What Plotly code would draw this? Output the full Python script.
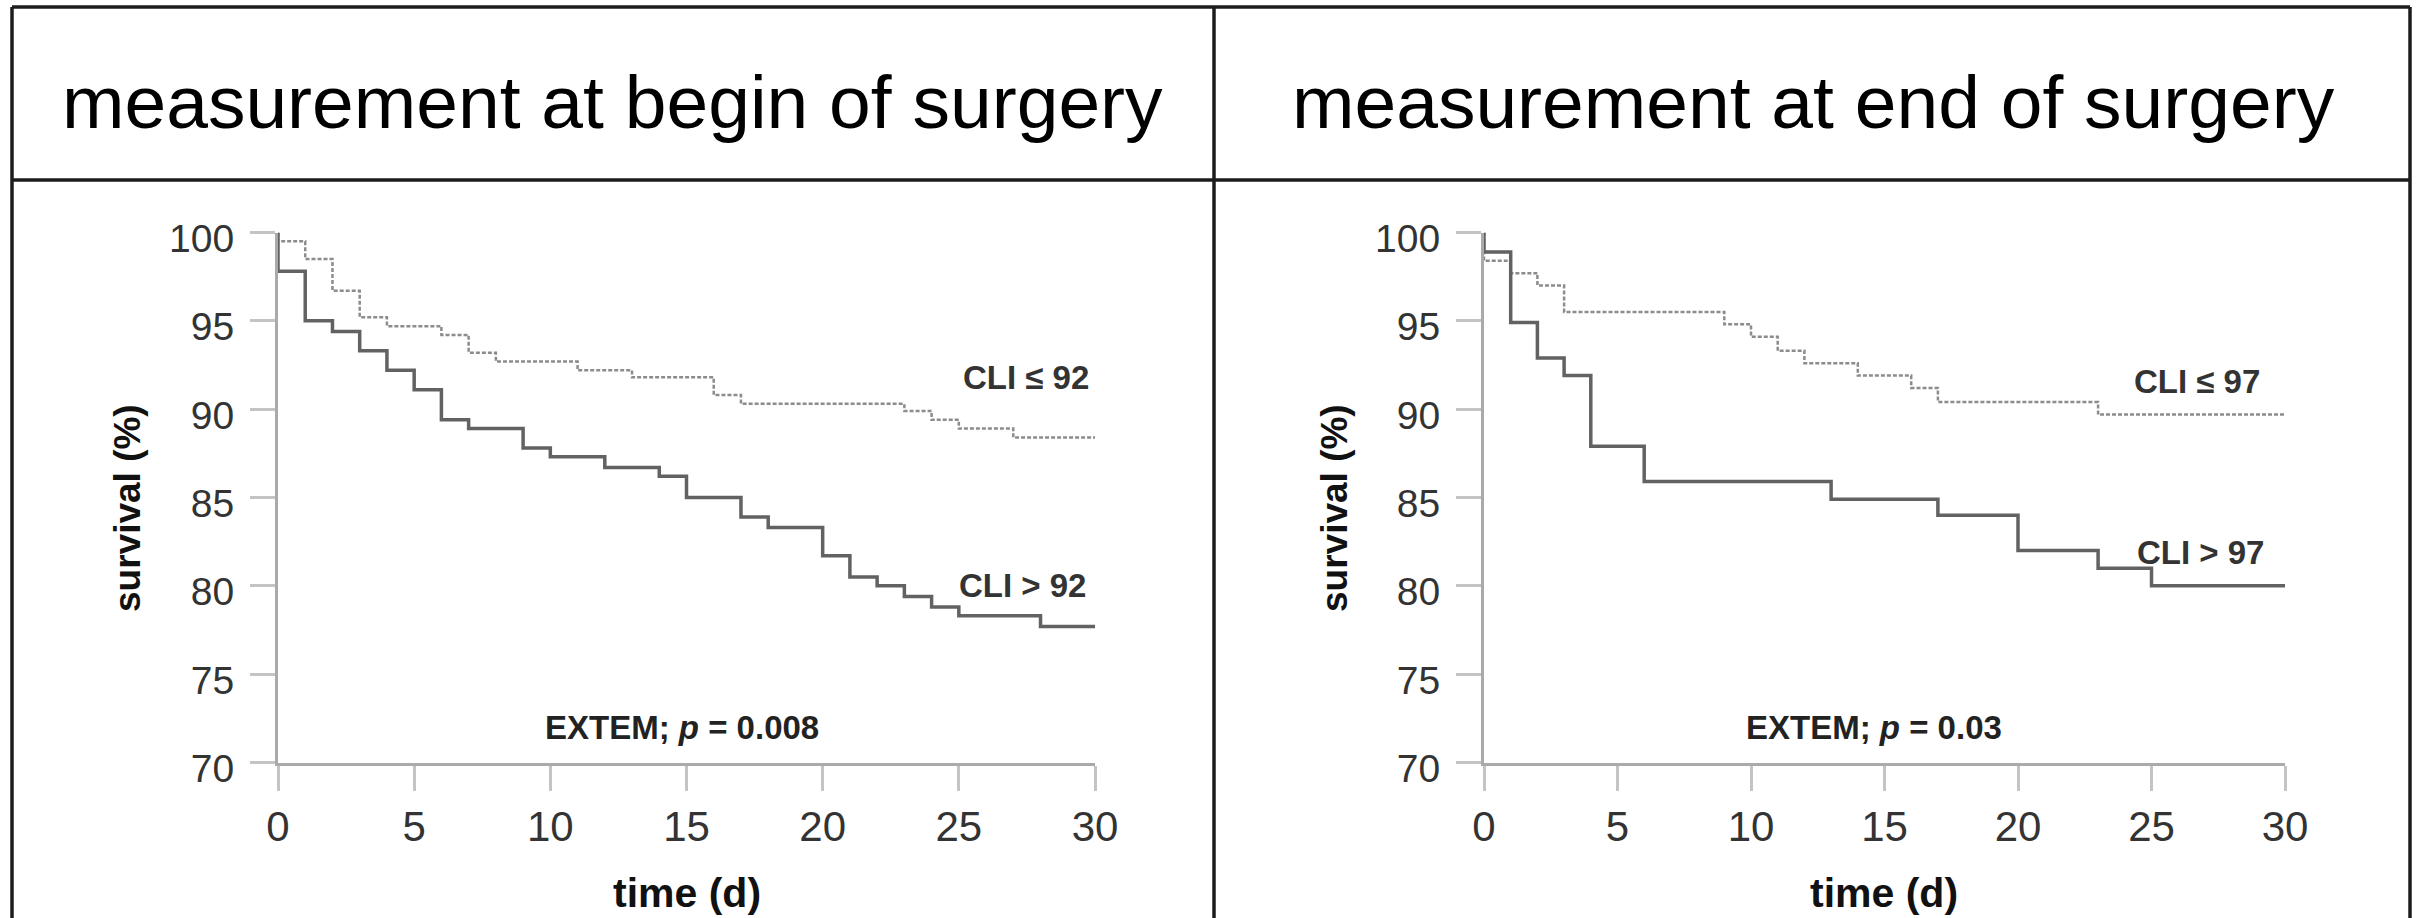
import plotly.graph_objects as go

W, H = 2422, 918

# ---------------- data ----------------
# Left panel: measurement at begin of surgery
left_hi_t = [0, 0, 1, 2, 3, 4, 5, 6, 7, 9, 10, 12, 14, 15, 17, 18, 20, 21, 22, 23, 24, 25, 28, 30]
left_hi_v = [100, 97.8, 95.0, 94.4, 93.3, 92.2, 91.1, 89.4, 88.9, 87.8, 87.3, 86.7, 86.2, 85.0,
             83.9, 83.3, 81.7, 80.5, 80.0, 79.4, 78.8, 78.3, 77.7, 77.7]
left_lo_t = [0, 0, 1, 2, 3, 4, 6, 7, 8, 11, 13, 16, 17, 23, 24, 25, 27, 30]
left_lo_v = [100, 99.5, 98.5, 96.7, 95.2, 94.7, 94.2, 93.2, 92.7, 92.2, 91.8, 90.8, 90.3,
             89.9, 89.4, 88.9, 88.4, 88.4]

# Right panel: measurement at end of surgery
right_hi_t = [0, 0, 1, 2, 3, 4, 6, 13, 17, 20, 23, 25, 30]
right_hi_v = [100, 98.9, 94.9, 92.9, 91.9, 87.9, 85.9, 84.9, 84.0, 82.0, 81.0, 80.0, 80.0]
right_lo_t = [0, 0, 1, 2, 3, 9, 10, 11, 12, 14, 16, 17, 23, 30]
right_lo_v = [100, 98.4, 97.7, 97.0, 95.5, 94.8, 94.1, 93.3, 92.6, 91.9, 91.2, 90.4, 89.7, 89.7]

panel_titles = ["measurement at begin of surgery", "measurement at end of surgery"]
label_lo = ["CLI ≤ 92", "CLI ≤ 97"]
label_hi = ["CLI > 92", "CLI > 97"]
pvals = ["0.008", "0.03"]
x_ticks = [0, 5, 10, 15, 20, 25, 30]
y_ticks = [70, 75, 80, 85, 90, 95, 100]

# ---------------- layout helpers ----------------
def px(x):
    return x / W

def py(y):
    return 1 - y / H

fig = go.Figure()

solid_col = "#626262"
dot_col = "#8c8c8c"
FONT = "Liberation Sans, Arial, sans-serif"

panels = [
    dict(xa="x", ya="y", hi=(left_hi_t, left_hi_v), lo=(left_lo_t, left_lo_v),
         lab_lo=(27.45, 91.8), lab_hi=(27.35, 80.0), ext=14.85,
         ytitle_x=127, xtitle_x=687, title_x=612),
    dict(xa="x2", ya="y2", hi=(right_hi_t, right_hi_v), lo=(right_lo_t, right_lo_v),
         lab_lo=(26.7, 91.55), lab_hi=(26.85, 81.9), ext=14.6,
         ytitle_x=1334, xtitle_x=1884, title_x=1813),
]

def ann(**kw):
    kw.setdefault("showarrow", False)
    kw.setdefault("xanchor", "center")
    kw.setdefault("yanchor", "middle")
    fig.add_annotation(**kw)

for i, p in enumerate(panels):
    fig.add_trace(go.Scatter(x=p["lo"][0], y=p["lo"][1], mode="lines", line_shape="hv",
                             line=dict(color=dot_col, width=2.5, dash="4px,2px"),
                             xaxis=p["xa"], yaxis=p["ya"], showlegend=False, hoverinfo="skip"))
    fig.add_trace(go.Scatter(x=p["hi"][0], y=p["hi"][1], mode="lines", line_shape="hv",
                             line=dict(color=solid_col, width=3.5),
                             xaxis=p["xa"], yaxis=p["ya"], showlegend=False, hoverinfo="skip"))
    # curve labels
    ann(x=p["lab_lo"][0], y=p["lab_lo"][1], xref=p["xa"], yref=p["ya"],
        text="<b>" + label_lo[i] + "</b>",
        font=dict(family=FONT, size=33, color="#333333"))
    ann(x=p["lab_hi"][0], y=p["lab_hi"][1], xref=p["xa"], yref=p["ya"],
        text="<b>" + label_hi[i] + "</b>",
        font=dict(family=FONT, size=33, color="#333333"))
    ann(x=p["ext"], y=72.0, xref=p["xa"], yref=p["ya"],
        text="<b>EXTEM; <i>p</i> = " + pvals[i] + "</b>",
        font=dict(family=FONT, size=33, color="#222222"))
    # axis titles
    ann(x=px(p["ytitle_x"]), y=py(508), xref="paper", yref="paper",
        text="<b>survival (%)</b>", textangle=-90,
        font=dict(family=FONT, size=37, color="#111111"))
    ann(x=px(p["xtitle_x"]), y=py(893), xref="paper", yref="paper",
        text="<b>time (d)</b>",
        font=dict(family=FONT, size=41, color="#111111"))
    # panel header
    ann(x=px(p["title_x"]), y=py(102), xref="paper", yref="paper",
        text=panel_titles[i],
        font=dict(family=FONT, size=75, color="#000000"))

axis_common = dict(showgrid=False, zeroline=False, showline=True, linecolor="#aaaaaa",
                   linewidth=3, ticks="outside", ticklen=25, tickwidth=2.5,
                   tickcolor="#c4c4c4", automargin=False)
xfont = dict(family=FONT, size=42, color="#333333")
yfont = dict(family=FONT, size=39, color="#333333")

ydom = (py(762.5), py(232.5))
fig.update_layout(
    width=W, height=H, margin=dict(l=0, r=0, t=0, b=0, pad=0, autoexpand=False),
    paper_bgcolor="white", plot_bgcolor="white",
    xaxis=dict(domain=(px(278), px(1095)), range=[0, 30], tickvals=x_ticks, anchor="y",
               ticklabelstandoff=0, tickfont=xfont, **axis_common),
    yaxis=dict(domain=ydom, range=[70, 100], tickvals=y_ticks, anchor="x",
               ticklabelstandoff=8, ticklabelshift=6, tickfont=yfont, **axis_common),
    xaxis2=dict(domain=(px(1484), px(2285)), range=[0, 30], tickvals=x_ticks, anchor="y2",
                ticklabelstandoff=0, tickfont=xfont, **axis_common),
    yaxis2=dict(domain=ydom, range=[70, 100], tickvals=y_ticks, anchor="x2",
                ticklabelstandoff=8, ticklabelshift=6, tickfont=yfont, **axis_common),
)

# frame lines
frame = "#1c1c1c"
for (x0, y0, x1, y1) in [(12, 7, 2410, 7), (12, 180, 2410, 180),
                         (12, 7, 12, 918), (1214, 7, 1214, 918), (2410, 7, 2410, 918)]:
    fig.add_shape(type="line", xref="paper", yref="paper",
                  x0=px(x0), y0=py(y0), x1=px(x1), y1=py(y1),
                  line=dict(color=frame, width=3.5))

fig.write_html("out.html")
